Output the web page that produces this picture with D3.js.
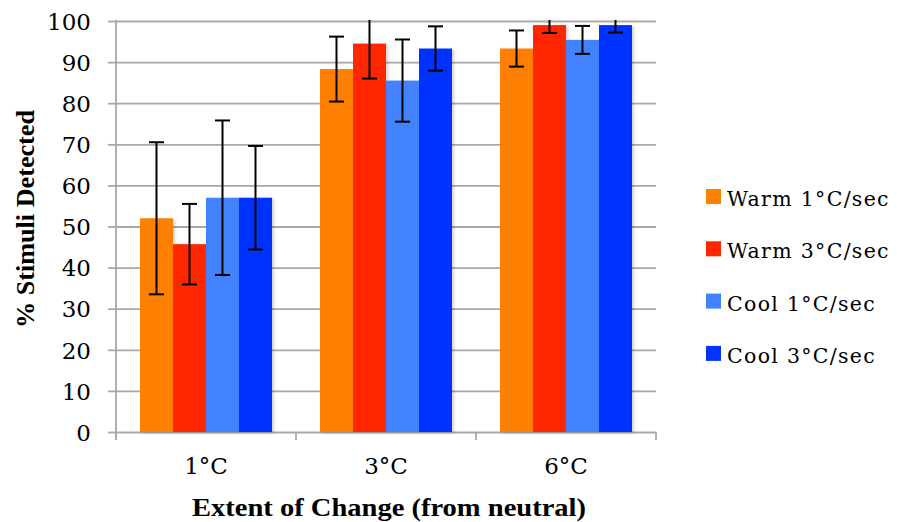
<!DOCTYPE html>
<html><head><meta charset="utf-8">
<script src="https://cdn.jsdelivr.net/npm/d3@7"></script>
<style>
html,body{margin:0;padding:0;background:#fff;}
svg{display:block;}
</style></head>
<body>
<svg id="chart" width="897" height="522"></svg>
<script>
// ---- data ----
const categories = ["1°C", "3°C", "6°C"];
const seriesNames = ["Warm 1°C/sec", "Warm 3°C/sec", "Cool 1°C/sec", "Cool 3°C/sec"];
const warm1 = [52.0, 88.3, 93.3];
const warm3 = [45.7, 94.5, 99.0];
const cool1 = [57.0, 85.5, 95.4];
const cool3 = [57.0, 93.3, 99.0];
const warm1Err = [18.5, 7.9, 4.4];
const warm3Err = [9.8, 8.5, 1.9];
const cool1Err = [18.8, 10.0, 3.4];
const cool3Err = [12.6, 5.4, 1.8];
const seriesColors = ["#FF7F00", "#FF2600", "#4282FF", "#0433FF"];
const yTicks = [0, 10, 20, 30, 40, 50, 60, 70, 80, 90, 100];
const xTitle = "Extent of Change (from neutral)";
const yTitle = "% Stimuli Detected";

const values = [warm1, warm3, cool1, cool3];
const errors = [warm1Err, warm3Err, cool1Err, cool3Err];
const rows = [];
seriesNames.forEach((s, si) => categories.forEach((c, ci) => {
  rows.push({series: s, cat: c, value: values[si][ci], err: errors[si][ci], color: seriesColors[si]});
}));

// ---- layout ----
const L = 116, R = 656, T = 21, B = 432;
const svg = d3.select("#chart");
const x = d3.scaleBand().domain(categories).range([L, R]).paddingInner(0).paddingOuter(0);
const x1 = d3.scaleBand().domain(seriesNames).range([24, x.bandwidth() - 24]).padding(0);
const y = d3.scaleLinear().domain([0, 100]).range([B, T]);

const defs = svg.append("defs");
defs.append("clipPath").attr("id", "plotclip").append("rect")
  .attr("x", L).attr("y", T - 1).attr("width", R - L).attr("height", B - T + 2);
const f = defs.append("filter").attr("id", "shadow").attr("x", "-20%").attr("y", "-5%").attr("width", "140%").attr("height", "110%");
f.append("feDropShadow").attr("dx", 2).attr("dy", 1).attr("stdDeviation", 1.5).attr("flood-color", "#000").attr("flood-opacity", 0.18);

const gridColor = "#A8A8A8";
const tickFont = "'DejaVu Serif', serif";

// gridlines
const grid = svg.append("g").attr("transform", `translate(${L},0)`)
  .call(d3.axisLeft(y).tickValues(yTicks).tickSize(-(R - L)).tickFormat(""));
grid.select(".domain").remove();
grid.selectAll("line").attr("stroke", gridColor).attr("stroke-width", 1.8);

// y axis with outward ticks and labels
const yAxis = svg.append("g").attr("transform", `translate(${L},0)`)
  .call(d3.axisLeft(y).tickValues(yTicks).tickSize(8).tickPadding(17).tickSizeOuter(0));
yAxis.select(".domain").remove();
yAxis.selectAll("line").attr("stroke", gridColor).attr("stroke-width", 1.8);
yAxis.selectAll("text").attr("font-family", tickFont).attr("font-size", 23).attr("fill", "#000").attr("dy", "0.36em");
svg.append("line").attr("x1", L).attr("x2", L).attr("y1", T - 1).attr("y2", B + 8)
  .attr("stroke", gridColor).attr("stroke-width", 1.8);

// x axis: labels at centres, ticks at band edges
const xAxis = svg.append("g").attr("transform", `translate(0,${B})`)
  .call(d3.axisBottom(x).tickSize(0).tickPadding(0));
xAxis.select(".domain").remove();
xAxis.selectAll("text").attr("font-family", tickFont).attr("font-size", 23).attr("fill", "#000")
  .attr("y", 42).attr("dy", 0);
const edges = categories.map(c => x(c)).concat([x(categories[categories.length - 1]) + x.bandwidth()]);
svg.append("g").selectAll("line").data(edges).join("line")
  .attr("x1", d => d).attr("x2", d => d).attr("y1", B).attr("y2", B + 8)
  .attr("stroke", gridColor).attr("stroke-width", 1.8);

// bars
svg.append("g").attr("filter", "url(#shadow)").selectAll("rect").data(rows).join("rect")
  .attr("x", d => x(d.cat) + x1(d.series))
  .attr("width", x1.bandwidth())
  .attr("y", d => y(d.value))
  .attr("height", d => y(0) - y(d.value))
  .attr("fill", d => d.color);

// error bars
const eb = svg.append("g").attr("clip-path", "url(#plotclip)").attr("stroke", "#000").attr("stroke-width", 2);
const cap = 7.5;
rows.forEach(d => {
  const cx = x(d.cat) + x1(d.series) + x1.bandwidth() / 2;
  const yt = y(d.value + d.err), yb = y(d.value - d.err);
  eb.append("line").attr("x1", cx).attr("x2", cx).attr("y1", yt).attr("y2", yb);
  eb.append("line").attr("x1", cx - cap).attr("x2", cx + cap).attr("y1", yt).attr("y2", yt);
  eb.append("line").attr("x1", cx - cap).attr("x2", cx + cap).attr("y1", yb).attr("y2", yb);
});

// titles
svg.append("text").attr("x", 389).attr("y", 516).attr("text-anchor", "middle")
  .attr("font-family", "'Liberation Serif', serif").attr("font-weight", "bold").attr("font-size", 26)
  .attr("textLength", 394).attr("lengthAdjust", "spacingAndGlyphs").text(xTitle);
svg.append("text").attr("transform", `translate(34,${219}) rotate(-90)`).attr("text-anchor", "middle")
  .attr("font-family", "'Liberation Serif', serif").attr("font-weight", "bold").attr("font-size", 26)
  .attr("textLength", 218).attr("lengthAdjust", "spacingAndGlyphs").text(yTitle);

// legend
const leg = svg.append("g").selectAll("g").data(seriesNames).join("g")
  .attr("transform", (d, i) => `translate(706,${189 + i * 52.3})`);
leg.append("rect").attr("width", 15).attr("height", 15).attr("fill", (d, i) => seriesColors[i]);
leg.append("text").attr("x", 21).attr("y", 17).attr("font-family", tickFont).attr("font-size", 20.5)
  .attr("letter-spacing", 1.3).attr("fill", "#000").text(d => d);
</script>
</body></html>
